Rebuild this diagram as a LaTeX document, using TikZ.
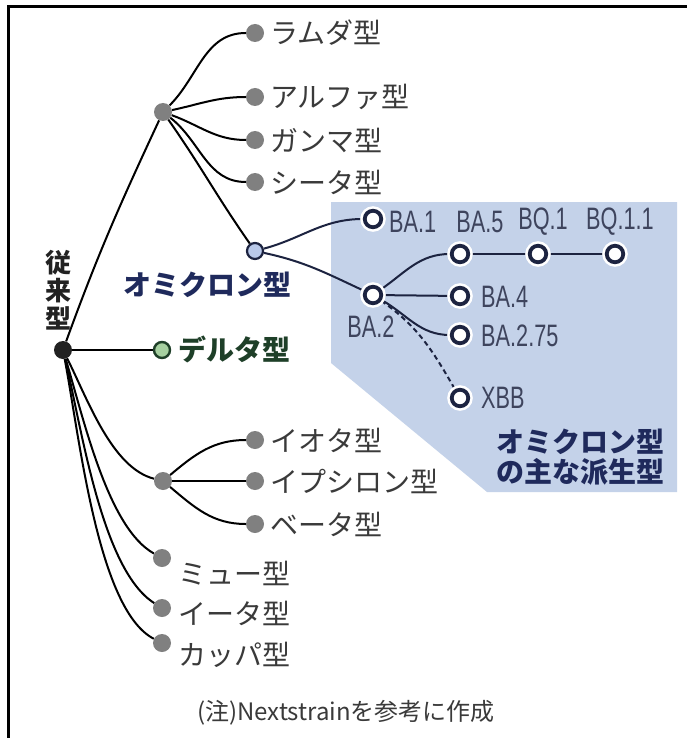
\documentclass[tikz,border=0pt]{standalone}
\usepackage{fontspec}
\setmainfont{Noto Sans CJK JP}
\newfontfamily\cond[FakeStretch=0.7]{Liberation Sans}
\usetikzlibrary{backgrounds}
\definecolor{bluebg}{HTML}{C4D2E9}
\definecolor{navy}{HTML}{1C2340}
\definecolor{dotgray}{HTML}{808080}
\definecolor{rootblack}{HTML}{222222}
\definecolor{omicfill}{HTML}{B9C9EA}
\definecolor{deltafill}{HTML}{A6D0A0}
\definecolor{deltadark}{HTML}{1E3F28}
\definecolor{labgray}{HTML}{3A3A3A}
\definecolor{omictext}{HTML}{1F2A5C}
\begin{document}
\begin{tikzpicture}[x=1pt,y=1pt,
  dotbase/.style={circle,inner sep=0pt,minimum size=18pt},
  graydot/.style={dotbase,fill=dotgray},
  rootdot/.style={dotbase,fill=rootblack},
  omicdot/.style={circle,inner sep=0pt,minimum size=16pt,fill=omicfill,draw=navy,line width=2.2pt},
  deltadot/.style={circle,inner sep=0pt,minimum size=16pt,fill=deltafill,draw=deltadark,line width=2.4pt},
  subdot/.style={circle,inner sep=0pt,minimum size=16.5pt,fill=white,draw=navy,line width=3.8pt,
     preaction={draw=white,line width=9pt}},
  lab/.style={anchor=west,inner sep=0pt,font=\fontsize{28}{30}\selectfont,text=labgray},
  blab/.style={inner sep=0pt,font=\fontsize{28}{30}\selectfont\bfseries},
  balab/.style={inner sep=0pt,font=\cond\fontsize{31}{32}\selectfont,text=navy!85!white},
  edge/.style={line width=2pt,black},
  subedge/.style={line width=2pt,navy}
]
\useasboundingbox (0,-738) rectangle (687,0);

% main nodes
\node[rootdot] (root) at (63,-350) {};
\node[graydot] (A) at (163,-112) {};
\node[graydot] (lam) at (255,-33) {};
\node[graydot] (alp) at (255,-97) {};
\node[graydot] (gam) at (255,-140) {};
\node[graydot] (the) at (255,-182) {};
\node[omicdot] (omi) at (255,-251) {};
\node[deltadot] (del) at (162,-350) {};
\node[graydot] (B) at (163,-481) {};
\node[graydot] (iot) at (255,-440) {};
\node[graydot] (eps) at (255,-481) {};
\node[graydot] (bet) at (255,-524) {};
\node[graydot] (mu) at (162,-558) {};
\node[graydot] (eta) at (162,-608) {};
\node[graydot] (kap) at (162,-643) {};

% omicron sub nodes
\node[subdot] (ba1) at (373,-219) {};
\node[subdot] (ba2) at (373,-295) {};
\node[subdot] (ba5) at (460,-254) {};
\node[subdot] (bq1) at (538,-254) {};
\node[subdot] (bq11) at (615,-254) {};
\node[subdot] (ba4) at (460,-296) {};
\node[subdot] (ba275) at (460,-335) {};
\node[subdot] (xbb) at (460,-398) {};

% labels
\node[lab] (tlam) at (270,-33) {ラムダ型};
\node[lab] (talp) at (270,-97) {アルファ型};
\node[lab] (tgam) at (270,-140) {ガンマ型};
\node[lab] (tthe) at (270,-182) {シータ型};
\node[lab] (tiot) at (270,-440) {イオタ型};
\node[lab] (teps) at (270,-481) {イプシロン型};
\node[lab] (tbet) at (270,-524) {ベータ型};
\node[lab] (tmu) at (178,-573) {ミュー型};
\node[lab] (teta) at (178,-613) {イータ型};
\node[lab] (tkap) at (178,-655) {カッパ型};
\node[blab,text=omictext] (tomi) at (207,-285) {オミクロン型};
\node[blab,text=deltadark,anchor=west] (tdel) at (178,-349) {デルタ型};
\node[blab,text=rootblack,font=\fontsize{26}{28}\selectfont\bfseries,align=center] (troot) at (58,-290) {従\\来\\型};
\node[blab,text=omictext,align=left,font=\fontsize{28}{30}\selectfont\bfseries] (tder) at (580,-457) {オミクロン型\\の主な派生型};
\node[inner sep=0pt,font=\fontsize{24}{26}\selectfont,text=labgray] (note) at (346,-713) {(注)Nextstrainを参考に作成};

\node[balab,anchor=west] (lba1) at (389,-222) {BA.1};
\node[balab] (lba5) at (480,-222) {BA.5};
\node[balab] (lbq1) at (543,-222) {BQ.1};
\node[balab] (lbq11) at (620,-222) {BQ.1.1};
\node[balab,anchor=west] (lba4) at (481,-297) {BA.4};
\node[balab,anchor=west] (lba275) at (481,-336) {BA.2.75};
\node[balab,anchor=west] (lxbb) at (481,-398) {XBB};
\node[balab] (lba2) at (371,-327) {BA.2};

\begin{scope}[on background layer]
\fill[white] (0,-738) rectangle (687,0);
\fill[bluebg] (331,-202) -- (677,-202) -- (677,-492) -- (487,-492) -- (331,-363) -- cycle;
\draw[line width=3pt] (8.5,-738) -- (8.5,-7) -- (687,-7);
\draw[edge] (root) to[out=70,in=245] (A);
\draw[edge] (A) to[out=45,in=180] (lam);
\draw[edge] (A) to[out=12,in=180] (alp);
\draw[edge] (A) to[out=-20,in=180] (gam);
\draw[edge] (A) to[out=-38,in=180] (the);
\draw[edge] (A) to[out=-55,in=125] (omi);
\draw[edge] (root) -- (del);
\draw[edge] (root) .. controls (88,-400) and (112,-468) .. (B);
\draw[edge] (root) .. controls (84,-420) and (108,-528) .. (mu);
\draw[edge] (root) .. controls (82,-430) and (102,-570) .. (eta);
\draw[edge] (root) .. controls (80,-440) and (98,-610) .. (kap);
\draw[edge] (B) to[out=40,in=180] (iot);
\draw[edge] (B) -- (eps);
\draw[edge] (B) to[out=-40,in=180] (bet);
\draw[subedge] (omi) to[out=15,in=180] (ba1);
\draw[subedge] (omi) to[out=-12,in=155] (ba2);
\draw[subedge] (ba2) to[out=35,in=180] (ba5);
\draw[subedge] (ba2) -- (ba4);
\draw[subedge] (ba2) to[out=-30,in=180] (ba275);
\draw[subedge,dash pattern=on 5pt off 3.5pt] (ba2) to[out=-35,in=120] (xbb);
\draw[subedge] (ba5) -- (bq1);
\draw[subedge] (bq1) -- (bq11);
\end{scope}
\end{tikzpicture}
\end{document}
